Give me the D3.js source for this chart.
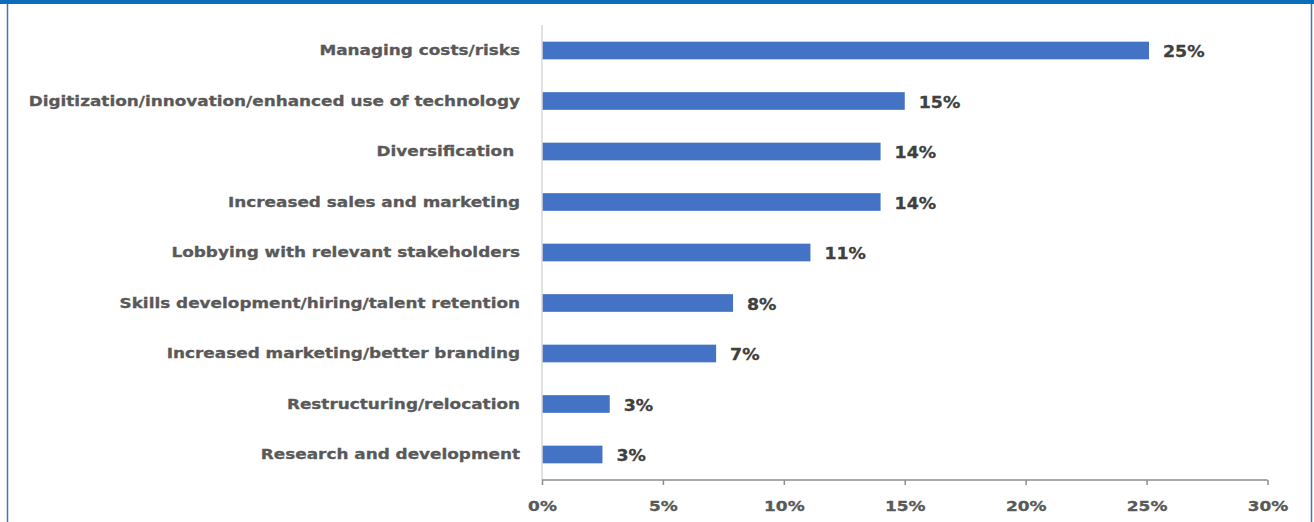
<!DOCTYPE html>
<html>
<head>
<meta charset="utf-8">
<script src="https://cdn.jsdelivr.net/npm/d3@7"></script>
<style>
  html, body { margin: 0; padding: 0; background: #fff; }
  svg { display: block; }
</style>
</head>
<body>
<div id="chart"></div>
<script>
// Share of responses per strategy (percent)
const categories = [
  "Managing costs/risks",
  "Digitization/innovation/enhanced use of technology",
  "Diversification ",
  "Increased sales and marketing",
  "Lobbying with relevant stakeholders",
  "Skills development/hiring/talent retention",
  "Increased marketing/better branding",
  "Restructuring/relocation",
  "Research and development"
];
const values = [25.1, 15.0, 14.0, 14.0, 11.1, 7.9, 7.2, 2.8, 2.5];
const xTicks = [0, 5, 10, 15, 20, 25, 30];

const W = 1314, H = 522;
const plot = { left: 542, right: 1267.5, top: 25, bottom: 480 };
const FONT = "DejaVu Sans";
const STRETCH = 1.18; // wide lettering

const svg = d3.select("#chart").append("svg")
  .attr("width", W).attr("height", H);

// Frame: thick blue top rule and thin side borders
svg.append("rect").attr("x", 0).attr("y", 0).attr("width", W).attr("height", 4)
  .attr("fill", "#0a6ebd");
svg.append("line").attr("x1", 7.5).attr("x2", 7.5).attr("y1", 4).attr("y2", H)
  .attr("stroke", "#4a6fc0").attr("stroke-width", 1.5);
svg.append("line").attr("x1", 1311.5).attr("x2", 1311.5).attr("y1", 4).attr("y2", H)
  .attr("stroke", "#4a6fc0").attr("stroke-width", 1.5);

const x = d3.scaleLinear().domain([0, 30]).range([plot.left, plot.right]);
const y = d3.scaleBand().domain(categories).range([plot.top, plot.bottom])
  .paddingInner(0.65).paddingOuter(0.33);

const data = categories.map((c, i) => ({ cat: c, val: values[i] }));

// Bars
svg.append("g").selectAll("rect").data(data).join("rect")
  .attr("x", x(0))
  .attr("y", d => y(d.cat))
  .attr("width", d => x(d.val) - x(0))
  .attr("height", y.bandwidth())
  .attr("fill", "#4472c4");

// Value labels
svg.append("g").selectAll("text").data(data).join("text")
  .attr("transform", d => `translate(${x(d.val) + 14},${y(d.cat) + y.bandwidth() / 2 + 1.5}) scale(1.12,1)`)
  .attr("dy", "0.35em")
  .attr("font-family", FONT)
  .attr("font-weight", "bold")
  .attr("font-size", 15.5)
  .attr("fill", "#404040")
  .attr("stroke", "#404040").attr("stroke-width", 0.3)
  .text(d => Math.round(d.val) + "%");

// Category labels
svg.append("g").selectAll("text").data(data).join("text")
  .attr("transform", d => `translate(520,${y(d.cat) + y.bandwidth() / 2 - 0.5}) scale(${STRETCH},1)`)
  .attr("dy", "0.35em")
  .attr("text-anchor", "end")
  .attr("font-family", FONT)
  .attr("font-weight", "bold")
  .attr("font-size", 14.3)
  .attr("fill", "#595959")
  .attr("stroke", "#595959").attr("stroke-width", 0.3)
  .style("white-space", "pre")
  .text(d => d.cat);

// Vertical category axis line
svg.append("line")
  .attr("x1", x(0)).attr("x2", x(0))
  .attr("y1", plot.top).attr("y2", plot.bottom)
  .attr("stroke", "#d9d9d9").attr("stroke-width", 1.5);

// Horizontal value axis
const xAxis = d3.axisBottom(x).tickValues(xTicks).tickSize(5).tickPadding(16)
  .tickFormat(d => d + "%");
const gx = svg.append("g").attr("transform", `translate(0,${plot.bottom})`).call(xAxis);
gx.select(".domain").attr("stroke", "#8c8c8c").attr("stroke-width", 1.5)
  .attr("d", `M${x(0)},0H${x(30)}`);
gx.selectAll(".tick line").attr("stroke", "#8c8c8c").attr("stroke-width", 1.5);
gx.selectAll(".tick text")
  .attr("transform", "scale(1.17,1)")
  .attr("font-family", FONT)
  .attr("font-weight", "bold")
  .attr("font-size", 14.5)
  .attr("fill", "#595959")
  .attr("stroke", "#595959").attr("stroke-width", 0.3);
</script>
</body>
</html>
